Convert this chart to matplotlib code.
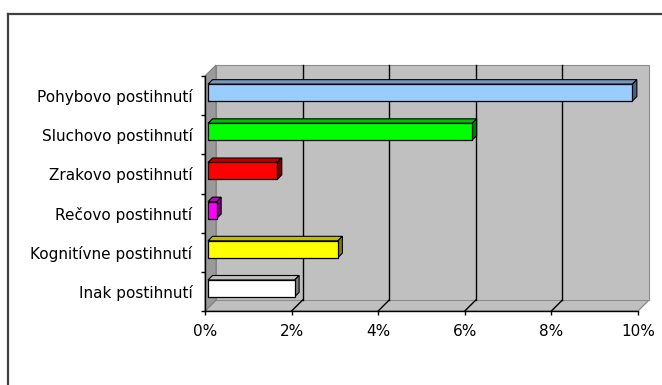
import numpy as np
import matplotlib
matplotlib.use("Agg")
import matplotlib.pyplot as plt
from matplotlib.patches import Polygon, Rectangle
from matplotlib.lines import Line2D
from matplotlib.colors import to_rgb

categories = ["Pohybovo postihnutí", "Sluchovo postihnutí", "Zrakovo postihnutí",
              "Rečovo postihnutí", "Kognitívne postihnutí", "Inak postihnutí"]
values = [9.8, 6.1, 1.6, 0.2, 3.0, 2.0]          # percent
colors = ["#99ccff", "#00ff00", "#ff0000", "#ff00ff", "#ffff00", "#ffffff"]
xticks = [0, 2, 4, 6, 8, 10]
xticklabels = ["0%", "2%", "4%", "6%", "8%", "10%"]

W, H = 662, 385
plt.rcParams["font.family"] = ["DejaVu Sans"]
fig = plt.figure(figsize=(W / 100, H / 100), dpi=100)
fig.patch.set_facecolor("white")

# front plane of the 3d box, in pixels
x0, x1, ytop, ybot = 205, 638, 76, 311
ax = fig.add_axes([x0 / W, (H - ybot) / H, (x1 - x0) / W, (ybot - ytop) / H])
ax.set_xlim(0, 10)
ax.set_ylim(0, len(categories))
ax.patch.set_visible(False)

# data units per pixel -> used for the depth offset
ux = 10 / (x1 - x0)
uy = len(categories) / (ybot - ytop)
DEPTH = 11


def off(x, y, d):
    return (x + d * ux, y + d * uy)


n = len(categories)
D = DEPTH
# floor
ax.add_patch(Polygon([off(0, 0, 0), off(10, 0, 0), off(10, 0, D), off(0, 0, D)],
                     closed=True, fc="#c0c0c0", ec="#808080", lw=0.8, clip_on=False, zorder=1))
# back wall
ax.add_patch(Polygon([off(0, 0, D), off(10, 0, D), off(10, n, D), off(0, n, D)],
                     closed=True, fc="#c0c0c0", ec="#8c8c8c", lw=0.8, clip_on=False, zorder=1))
# left side wall
ax.add_patch(Polygon([off(0, 0, 0), off(0, n, 0), off(0, n, D), off(0, 0, D)],
                     closed=True, fc="#9a9a9a", ec="#808080", lw=0.8, clip_on=False, zorder=1))

# gridlines on back wall and floor
for t in xticks[1:-1]:
    bx0, by0 = off(t, 0, D)
    bx1, by1 = off(t, n, D)
    ax.plot([bx0, bx1], [by0, by1], color="black", lw=1.0, clip_on=False, zorder=2)
    ax.plot([t, bx0], [0, by0], color="black", lw=1.0, clip_on=False, zorder=2)

# bars
d0, d1 = 3, 7.5
hh = 0.215
for i, (v, c) in enumerate(zip(values, colors)):
    yc = n - 0.5 - i
    rgb = np.array(to_rgb(c))
    side = tuple(rgb * 0.5)
    top = tuple(rgb * 0.75)
    ax.add_patch(Polygon([off(0, yc + hh, d0), off(v, yc + hh, d0),
                          off(v, yc + hh, d1), off(0, yc + hh, d1)],
                         closed=True, fc=top, ec="black", lw=0.8, clip_on=False, zorder=3))
    ax.add_patch(Polygon([off(v, yc - hh, d0), off(v, yc + hh, d0),
                          off(v, yc + hh, d1), off(v, yc - hh, d1)],
                         closed=True, fc=side, ec="black", lw=0.8, clip_on=False, zorder=3))
    fx, fy = off(0, yc - hh, d0)
    ax.add_patch(Rectangle((fx, fy), v, 2 * hh, fc=c, ec="black", lw=0.9,
                           clip_on=False, zorder=4))

# axes
for s in ("top", "right"):
    ax.spines[s].set_visible(False)
ax.spines["bottom"].set_linewidth(1.0)
ax.spines["left"].set_linewidth(1.0)
ax.spines["bottom"].set_zorder(5)
ax.spines["left"].set_zorder(5)
ax.set_xticks(xticks)
ax.set_xticklabels(xticklabels, fontsize=11)
ax.set_yticks(np.arange(n + 1))
ax.set_yticklabels([])
ax.set_yticks(np.arange(n) + 0.5, minor=True)
ax.set_yticklabels(categories[::-1], minor=True, fontsize=11)
ax.tick_params(axis="x", length=3, width=1, pad=6)
ax.tick_params(axis="y", which="major", length=3, width=1)
ax.tick_params(axis="y", which="minor", length=0, pad=9)

# outer chart frame (only top and left visible)
fig.add_artist(Line2D([8 / W, 1], [1 - 14 / H, 1 - 14 / H], transform=fig.transFigure,
                      color="#404040", lw=1.6))
fig.add_artist(Line2D([8 / W, 8 / W], [1 - 14 / H, 0], transform=fig.transFigure,
                      color="#404040", lw=1.6))

fig.savefig("out.png", dpi=100)
